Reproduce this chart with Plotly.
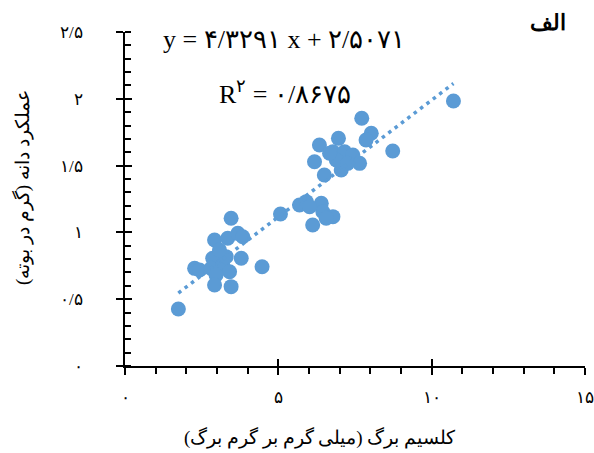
import numpy as np
import plotly.graph_objects as go

# Leaf calcium (mg/g leaf) vs grain yield (g/plant)
calcium = [
    2.92, 3.35, 3.68, 3.84, 2.86, 3.79, 2.27, 2.43, 2.81, 3.19, 3.41, 2.97,
    3.46, 2.92, 3.30, 3.08, 3.46, 4.47, 1.74,
    5.07, 5.69, 5.91, 6.40, 6.45, 6.78, 6.12, 6.02, 6.56,
    7.72, 8.03, 7.86, 8.73, 6.34, 6.96, 6.78, 7.16, 7.43, 6.18, 6.50, 7.05,
    7.65, 6.89, 7.26, 6.67, 10.71,
]
yield_g = [
    0.943, 0.956, 0.993, 0.968, 0.806, 0.806, 0.731, 0.719, 0.731, 0.756, 0.706, 0.681,
    0.594, 0.606, 0.818, 0.868, 1.106, 0.743, 0.427,
    1.138, 1.205, 1.230, 1.218, 1.155, 1.118, 1.055, 1.192, 1.106,
    1.854, 1.742, 1.692, 1.609, 1.654, 1.704, 1.604, 1.604, 1.579, 1.529, 1.430, 1.467,
    1.517, 1.542, 1.517, 1.592, 1.984,
]

x_tickvals = [0, 5, 10, 15]
x_ticktext = ["۰", "۵", "۱۰", "۱۵"]
y_tickvals = [0, 0.5, 1, 1.5, 2, 2.5]
y_ticktext = ["۰", "۰/۵", "۱", "۱/۵", "۲", "۲/۵"]

equation_text = "y = ۴/۳۲۹۱ x + ۲/۵۰۷۱"
r2_text = "R<sup>۲</sup> = ۰/۸۶۷۵"
panel_label = "الف"
x_title = "کلسیم برگ (میلی گرم بر گرم برگ)"
y_title = "عملکرد دانه (گرم در بوته)"

BLUE = "#5B9BD5"
SERIF = "Liberation Serif, DejaVu Serif, serif"

slope, intercept = np.polyfit(calcium, yield_g, 1)
xs = np.array([min(calcium), max(calcium)])
ys = slope * xs + intercept

fig = go.Figure()
fig.add_trace(go.Scatter(
    x=calcium, y=yield_g, mode="markers",
    marker=dict(color=BLUE, size=15, line=dict(width=0)),
    showlegend=False, hoverinfo="x+y",
))
fig.add_trace(go.Scatter(
    x=xs, y=ys, mode="lines",
    line=dict(color=BLUE, width=3.5, dash="3.5px,4.5px"),
    showlegend=False, hoverinfo="skip",
))
# helper empty trace for overlay axes (crossing major ticks)
fig.add_trace(go.Scatter(x=[None], y=[None], xaxis="x2", yaxis="y2", showlegend=False,
                         hoverinfo="skip"))

axis_common = dict(showgrid=False, zeroline=False, showline=True, linecolor="black",
                   linewidth=1.5, tickcolor="black", tickwidth=1.5, ticklen=7,
                   ticks="outside", automargin=False,
                   tickfont=dict(family=SERIF, size=17, color="black"))

fig.update_layout(
    width=594, height=453,
    margin=dict(l=125, r=9, t=32, b=87),
    paper_bgcolor="white", plot_bgcolor="white",
    xaxis=dict(range=[0, 15], tickmode="array", tickvals=x_tickvals, ticktext=x_ticktext,
               minor=dict(dtick=1, ticks="outside", ticklen=6, tickcolor="black", tickwidth=1.5),
               ticklabelstandoff=8, **axis_common),
    yaxis=dict(range=[0, 2.5], tickmode="array", tickvals=y_tickvals, ticktext=y_ticktext,
               minor=dict(dtick=0.1, ticks="inside", ticklen=6, tickcolor="black", tickwidth=1.5),
               ticklabelstandoff=30, **axis_common),
    xaxis2=dict(range=[0, 15], overlaying="x", anchor="y2", side="bottom", showgrid=False,
                zeroline=False, showline=False, showticklabels=False, ticks="inside",
                tickvals=x_tickvals, ticklen=7, tickwidth=1.5, tickcolor="black",
                automargin=False),
    yaxis2=dict(range=[0, 2.5], overlaying="y", anchor="x2", side="left", showgrid=False,
                zeroline=False, showline=False, showticklabels=False, ticks="inside",
                tickvals=y_tickvals, ticklen=7, tickwidth=1.5, tickcolor="black",
                automargin=False),
    font=dict(family=SERIF, color="black"),
    annotations=[
        dict(text=equation_text, xref="paper", yref="paper", x=(284 - 125) / 460,
             y=(453 - 87 - 40) / 334, showarrow=False, xanchor="center", yanchor="middle",
             font=dict(family=SERIF, size=26, color="black")),
        dict(text=r2_text, xref="paper", yref="paper", x=(285 - 125) / 460,
             y=(453 - 87 - 92) / 334, showarrow=False, xanchor="center", yanchor="middle",
             font=dict(family=SERIF, size=26, color="black")),
        dict(text="<b>" + panel_label + "</b>", xref="paper", yref="paper",
             x=(548 - 125) / 460, y=(453 - 87 - 22) / 334, showarrow=False,
             xanchor="center", yanchor="middle",
             font=dict(family=SERIF, size=22, color="black")),
        dict(text=x_title, xref="paper", yref="paper", x=(320 - 125) / 460,
             y=(453 - 87 - 437) / 334, showarrow=False, xanchor="center", yanchor="middle",
             font=dict(family=SERIF, size=19, color="black")),
        dict(text=y_title, xref="paper", yref="paper", x=(22 - 125) / 460,
             y=(453 - 87 - 188) / 334, showarrow=False, xanchor="center", yanchor="middle",
             textangle=-90, font=dict(family=SERIF, size=19, color="black")),
    ],
)

fig.write_html("out.html")
